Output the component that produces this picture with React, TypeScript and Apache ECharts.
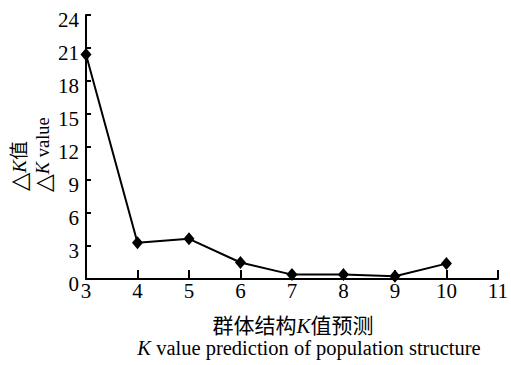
import React, { useEffect, useRef } from "react";
import * as echarts from "echarts";

const kValues = [3, 4, 5, 6, 7, 8, 9, 10];
const deltaK = [20.4, 3.3, 3.65, 1.5, 0.4, 0.4, 0.25, 1.4];
const xTitleCn = "群体结构{i|K}值预测";
const xTitleEn = "{i|K} value prediction of population structure";
const yTitleCn = "{t|△}{i|K}值";
const yTitleEn = "{t|△}{i|K} value";

const FONT = "Liberation Serif, Noto Sans CJK SC, serif";

export default function App() {
  const ref = useRef<HTMLDivElement>(null);
  useEffect(() => {
    const chart = echarts.init(ref.current!, null, { renderer: "svg" });
    const richOf = (size: number) => ({
      i: { fontStyle: "italic", fontFamily: FONT, fontSize: size, color: "#000" },
      t: { fontFamily: "DejaVu Serif", fontSize: size * 1.25, color: "#000" },
    });
    chart.setOption({
      animation: false,
      backgroundColor: "#fff",
      textStyle: { fontFamily: FONT, color: "#000" },
      grid: { left: 86, right: 8, top: 15, bottom: 86, containLabel: false },
      xAxis: {
        type: "value",
        min: 3,
        max: 11,
        interval: 1,
        axisLine: { lineStyle: { color: "#000", width: 2 } },
        axisTick: { inside: true, length: 9, lineStyle: { color: "#000", width: 2 } },
        axisLabel: { color: "#000", fontSize: 21, fontFamily: FONT, margin: 1 },
        splitLine: { show: false },
      },
      yAxis: {
        type: "value",
        min: 0,
        max: 24,
        interval: 3,
        axisLine: { show: true, lineStyle: { color: "#000", width: 2 } },
        axisTick: { show: true, inside: true, length: 5, lineStyle: { color: "#000", width: 2 } },
        axisLabel: {
          color: "#000",
          fontSize: 21,
          fontFamily: FONT,
          margin: 7,
          verticalAlign: "top",
          lineHeight: 10,
        },
        splitLine: { show: false },
      },
      series: [
        {
          type: "line",
          data: kValues.map((k, i) => [k, deltaK[i]]),
          symbol: "diamond",
          symbolSize: [11, 13],
          itemStyle: { color: "#000" },
          lineStyle: { color: "#000", width: 2 },
        },
      ],
      graphic: [
        {
          type: "text",
          x: 293,
          y: 326,
          style: { text: xTitleCn, rich: richOf(21), fontSize: 21, fontFamily: FONT, fill: "#000", align: "center", verticalAlign: "middle" },
        },
        {
          type: "text",
          x: 309,
          y: 348,
          style: { text: xTitleEn, rich: richOf(20.5), fontSize: 20.5, fontFamily: FONT, fill: "#000", align: "center", verticalAlign: "middle" },
        },
        {
          type: "text",
          x: 19,
          y: 191,
          rotation: Math.PI / 2,
          style: { text: yTitleCn, rich: richOf(19), fontSize: 19, fontFamily: FONT, fill: "#000", align: "left", verticalAlign: "middle" },
        },
        {
          type: "text",
          x: 43,
          y: 192,
          rotation: Math.PI / 2,
          style: { text: yTitleEn, rich: richOf(18.5), fontSize: 18.5, fontFamily: FONT, fill: "#000", align: "left", verticalAlign: "middle" },
        },
      ],
    });
    return () => chart.dispose();
  }, []);
  return <div ref={ref} style={{ width: 511, height: 365, position: "absolute", left: 0, top: 0 }} />;
}
